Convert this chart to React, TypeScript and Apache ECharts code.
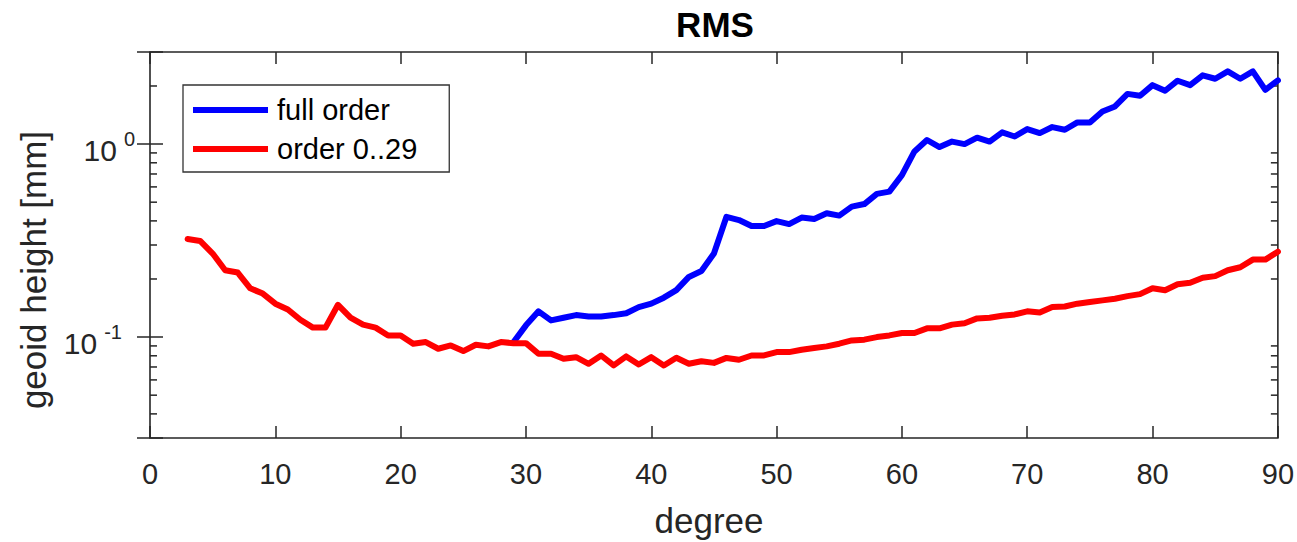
import React, { useEffect, useRef } from "react";
import * as echarts from "echarts";

const FONT = "'Liberation Sans', Arial, Helvetica, sans-serif";

const redDegrees = [3, 4, 5, 6, 7, 8, 9, 10, 11, 12, 13, 14, 15, 16, 17, 18, 19, 20, 21, 22, 23, 24, 25, 26, 27, 28, 29, 30, 31, 32, 33, 34, 35, 36, 37, 38, 39, 40, 41, 42, 43, 44, 45, 46, 47, 48, 49, 50, 51, 52, 53, 54, 55, 56, 57, 58, 59, 60, 61, 62, 63, 64, 65, 66, 67, 68, 69, 70, 71, 72, 73, 74, 75, 76, 77, 78, 79, 80, 81, 82, 83, 84, 85, 86, 87, 88, 89, 90];
const redValues = [0.322, 0.315, 0.271, 0.222, 0.216, 0.179, 0.168, 0.149, 0.139, 0.123, 0.112, 0.112, 0.147, 0.126, 0.116, 0.112, 0.102, 0.102, 0.0924, 0.0942, 0.087, 0.0905, 0.0846, 0.0913, 0.0895, 0.0942, 0.093, 0.093, 0.082, 0.082, 0.0772, 0.0787, 0.0727, 0.0803, 0.0713, 0.0794, 0.0721, 0.0787, 0.0713, 0.0781, 0.0727, 0.075, 0.0735, 0.078, 0.0763, 0.0803, 0.0803, 0.0836, 0.0836, 0.086, 0.0877, 0.0895, 0.0924, 0.0961, 0.097, 0.1, 0.102, 0.105, 0.105, 0.111, 0.111, 0.116, 0.118, 0.125, 0.126, 0.129, 0.131, 0.136, 0.134, 0.143, 0.144, 0.149, 0.152, 0.155, 0.158, 0.163, 0.167, 0.179, 0.175, 0.188, 0.191, 0.203, 0.207, 0.222, 0.23, 0.252, 0.252, 0.277];

const blueDegrees = [29, 30, 31, 32, 33, 34, 35, 36, 37, 38, 39, 40, 41, 42, 43, 44, 45, 46, 47, 48, 49, 50, 51, 52, 53, 54, 55, 56, 57, 58, 59, 60, 61, 62, 63, 64, 65, 66, 67, 68, 69, 70, 71, 72, 73, 74, 75, 76, 77, 78, 79, 80, 81, 82, 83, 84, 85, 86, 87, 88, 89, 90];
const blueValues = [0.094, 0.115, 0.136, 0.122, 0.126, 0.13, 0.128, 0.128, 0.13, 0.133, 0.143, 0.149, 0.16, 0.175, 0.205, 0.22, 0.271, 0.42, 0.404, 0.376, 0.376, 0.399, 0.385, 0.416, 0.409, 0.438, 0.426, 0.474, 0.489, 0.552, 0.567, 0.69, 0.916, 1.05, 0.965, 1.03, 1.0, 1.08, 1.03, 1.15, 1.095, 1.196, 1.14, 1.225, 1.186, 1.295, 1.295, 1.476, 1.567, 1.82, 1.78, 2.02, 1.89, 2.13, 2.02, 2.27, 2.18, 2.38, 2.18, 2.38, 1.91, 2.14];

const seriesNames = ["full order", "order 0..29"];
const xTicks = { min: 0, max: 90, interval: 10 };
const yRange = { min: 0.03, max: 3 };
const yMinorTicks = [0.04, 0.05, 0.06, 0.07, 0.08, 0.09, 0.2, 0.3, 0.4, 0.5, 0.6, 0.7, 0.8, 0.9, 2];

const AXIS_COLOR = "#262626";

export default function App() {
  const ref = useRef<HTMLDivElement>(null);
  useEffect(() => {
    if (!ref.current) return;
    const chart = echarts.init(ref.current, undefined, { renderer: "svg" });
    const pairs = (xs: number[], ys: number[]) => xs.map((x, i) => [x, ys[i]]);
    const option: any = {
      animation: false,
      backgroundColor: "#fff",
      grid: {
        left: 150,
        right: 18,
        top: 52,
        bottom: 104,
        show: true,
        borderColor: AXIS_COLOR,
        borderWidth: 1.6,
        backgroundColor: "transparent",
      },
      legend: {
        orient: "vertical",
        left: 183,
        top: 85,
        data: seriesNames,
        icon: "rect",
        itemWidth: 75,
        itemHeight: 6,
        itemGap: 9,
        padding: [10, 32, 8, 10],
        borderColor: "#333",
        borderWidth: 1.3,
        backgroundColor: "#fff",
        textStyle: { fontFamily: FONT, fontSize: 29, color: "#000", lineHeight: 30, padding: [0, 0, 0, 4] },
      },
      xAxis: [
        {
          type: "value",
          position: "bottom",
          min: xTicks.min,
          max: xTicks.max,
          interval: xTicks.interval,
          axisLine: { show: false },
          axisTick: { show: true, inside: true, length: 12, lineStyle: { color: AXIS_COLOR, width: 1.5 } },
          axisLabel: { margin: 21, fontFamily: FONT, fontSize: 29, color: "#262626" },
          splitLine: { show: false },
        },
        {
          type: "value",
          position: "top",
          min: xTicks.min,
          max: xTicks.max,
          interval: xTicks.interval,
          axisLine: { show: false },
          axisTick: { show: true, inside: true, length: 12, lineStyle: { color: AXIS_COLOR, width: 1.5 } },
          axisLabel: { show: false },
          splitLine: { show: false },
        },
      ],
      yAxis: [
        {
          type: "log",
          logBase: 10,
          position: "left",
          min: yRange.min,
          max: yRange.max,
          axisLine: { show: false },
          axisTick: { show: true, inside: true, length: 13, lineStyle: { color: AXIS_COLOR, width: 1.5 } },
          splitLine: { show: false },
          axisLabel: {
            margin: 15,
            color: "#262626",
            fontFamily: FONT,
            formatter: (v: number) => {
              const l = Math.log10(v);
              const e = Math.round(l);
              if (Math.abs(l - e) > 1e-6) return "";
              return e < 0 ? `{b|10}{n|${e}}` : `{b|10}{s|${e}}`;
            },
            rich: {
              b: { fontFamily: FONT, fontSize: 30, color: "#262626", padding: [12, 0, 0, 0], verticalAlign: "middle" },
              s: { fontFamily: FONT, fontSize: 20, color: "#262626", padding: [0, 0, 10, 7], verticalAlign: "middle" },
              n: { fontFamily: FONT, fontSize: 20, color: "#262626", padding: [0, 13, 10, 7], verticalAlign: "middle" },
            },
          },
        },
        {
          type: "log",
          logBase: 10,
          position: "right",
          min: yRange.min,
          max: yRange.max,
          axisLine: { show: false },
          axisTick: { show: true, inside: true, length: 13, lineStyle: { color: AXIS_COLOR, width: 1.5 } },
          axisLabel: { show: false },
          splitLine: { show: false },
        },
      ],
      graphic: [
        {
          type: "text",
          x: 715,
          y: 24,
          style: {
            text: "RMS",
            fontFamily: FONT,
            fontSize: 35,
            fontWeight: "bold",
            fill: "#000",
            align: "center",
            verticalAlign: "middle",
          },
        },
        {
          type: "text",
          x: 33,
          y: 270,
          rotation: Math.PI / 2,
          style: {
            text: "geoid height [mm]",
            fontFamily: FONT,
            fontSize: 35,
            fill: "#262626",
            align: "center",
            verticalAlign: "middle",
          },
        },
        {
          type: "text",
          x: 709,
          y: 520,
          style: {
            text: "degree",
            fontFamily: FONT,
            fontSize: 35,
            fill: "#262626",
            align: "center",
            verticalAlign: "middle",
          },
        },
      ],
      series: [
        {
          name: seriesNames[0],
          type: "line",
          xAxisIndex: 0,
          yAxisIndex: 0,
          data: pairs(blueDegrees, blueValues),
          showSymbol: false,
          symbol: "none",
          color: "#0000ff",
          lineStyle: { color: "#0000ff", width: 6, join: "round", cap: "round" },
          z: 3,
        },
        {
          name: seriesNames[1],
          type: "line",
          xAxisIndex: 0,
          yAxisIndex: 0,
          data: pairs(redDegrees, redValues),
          showSymbol: false,
          symbol: "none",
          color: "#ff0000",
          lineStyle: { color: "#ff0000", width: 6, join: "round", cap: "round" },
          z: 4,
        },
        {
          name: "minorTicks",
          type: "custom",
          xAxisIndex: 0,
          yAxisIndex: 0,
          silent: true,
          clip: false,
          data: yMinorTicks.map((v) => [xTicks.min, v]),
          renderItem: (params: any, api: any) => {
            const v = api.value(1);
            const l = api.coord([xTicks.min, v]);
            const r = api.coord([xTicks.max, v]);
            const style = { stroke: AXIS_COLOR, lineWidth: 1.5 };
            return {
              type: "group",
              children: [
                { type: "line", shape: { x1: l[0], y1: l[1], x2: l[0] + 7, y2: l[1] }, style },
                { type: "line", shape: { x1: r[0] - 7, y1: r[1], x2: r[0], y2: r[1] }, style },
              ],
            };
          },
          z: 2,
        },
      ],
    };
    chart.setOption(option);
    return () => chart.dispose();
  }, []);
  return (
    <div
      ref={ref}
      style={{ width: 1297, height: 542, position: "absolute", left: 0, top: 0, background: "#fff" }}
    />
  );
}
